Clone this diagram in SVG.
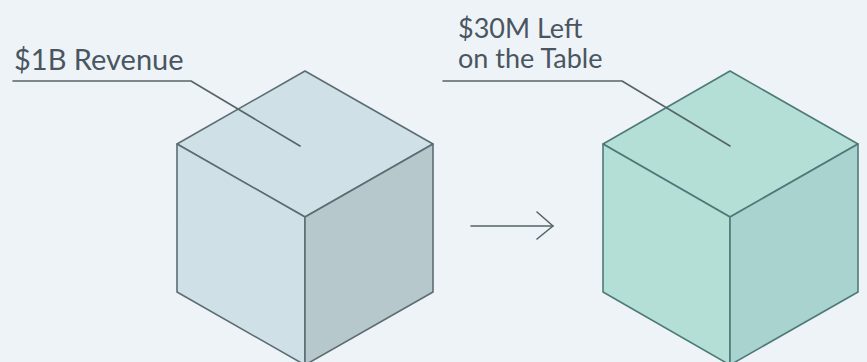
<svg xmlns="http://www.w3.org/2000/svg" width="867" height="362" viewBox="0 0 867 362">
<style>
.lbl{font-family:Lato,"Open Sans","Liberation Sans",sans-serif;fill:#4a565f;}
.ln{fill:none;stroke:#55646a;stroke-width:1.6;stroke-linecap:round;stroke-linejoin:round;}
.c1{stroke:#5c6d73;stroke-width:1.6;stroke-linejoin:round;}
.c2{stroke:#4f7a79;stroke-width:1.6;stroke-linejoin:round;}
</style>
<rect width="867" height="362" fill="#eef3f8"/>
<g id="cube-revenue">
<polygon class="c1" fill="#cfe0e6" points="305,71 433,144 305,217 177,144"/>
<polygon class="c1" fill="#cfe0e6" points="177,144 305,217 305,365 177,292"/>
<polygon class="c1" fill="#b7c8cc" points="305,217 433,144 433,292 305,365"/>
</g>
<g id="cube-left-on-table">
<polygon class="c2" fill="#b3dfd6" points="730,71 858,144 730,217 603,144"/>
<polygon class="c2" fill="#b3dfd6" points="603,144 730,217 730,365 603,292"/>
<polygon class="c2" fill="#a8d3cf" points="730,217 858,144 858,292 730,365"/>
</g>
<g id="label-revenue">
<text class="lbl" x="14" y="70" font-size="29">$1B Revenue</text>
</g>
<g id="label-left">
<text class="lbl" x="458" y="38" font-size="27">$30M Left</text>
<text class="lbl" x="458" y="68" font-size="27">on the Table</text>
</g>
<g id="connectors">
<polyline class="ln" points="13,81 191,81 300,146"/>
<polyline class="ln" points="443,81 622,81 730,146"/>
<line class="ln" x1="471" y1="226" x2="553" y2="226"/>
<polyline class="ln" points="537,212 553,226 537,239"/>
</g>
</svg>
